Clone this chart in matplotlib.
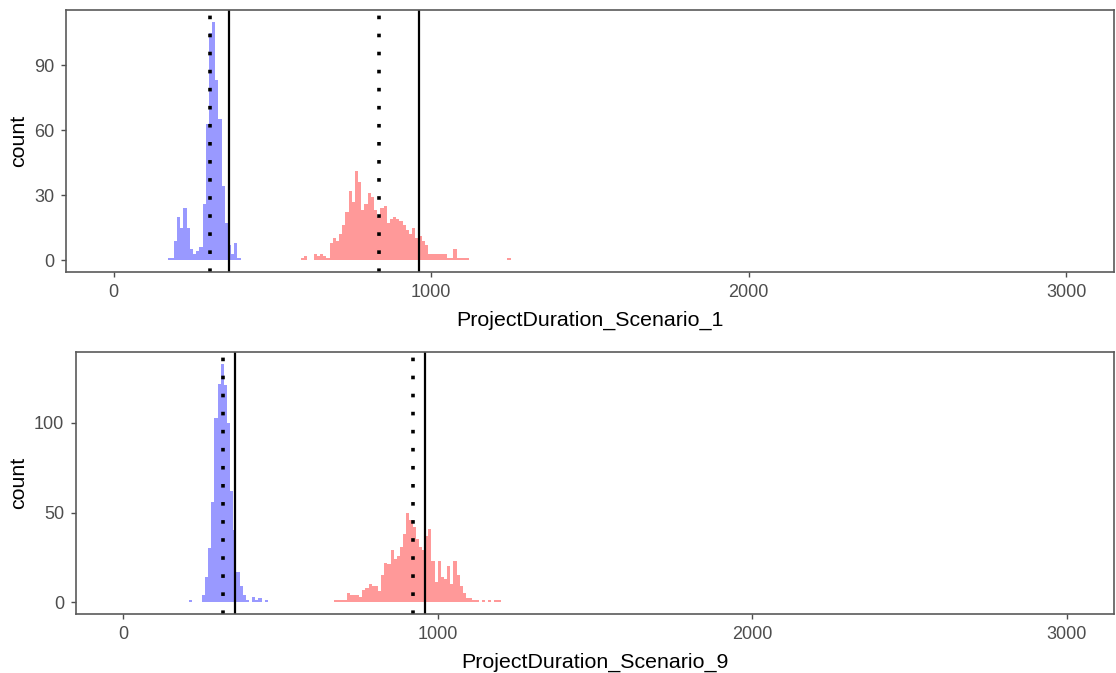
import numpy as np
import matplotlib
matplotlib.use("Agg")
import matplotlib.pyplot as plt

# histogram counts, binwidth 10
binwidth = 10

s1_fast_start = 170
s1_fast_counts = [1, 1, 9, 20, 15, 24, 15, 5, 3, 4, 6, 26, 63, 105, 110, 83,
                  65, 34, 17, 7, 3, 8, 1]
s1_slow_start = 590
s1_slow_counts = [1, 2, 0, 0, 3, 2, 3, 2, 1, 8, 10, 9, 12, 16, 22, 32, 27, 41,
                  36, 23, 26, 31, 29, 23, 20, 24, 25, 17, 19, 20, 19, 18, 16,
                  14, 12, 15, 10, 11, 9, 7, 3, 3, 3, 3, 3, 3, 1, 1, 5, 1, 1,
                  1, 1, 0, 0, 0, 0, 0, 0, 0, 0, 0, 0, 0, 0, 1]

s9_fast_start = 210
s9_fast_counts = [1, 0, 0, 0, 4, 14, 30, 56, 103, 122, 133, 121, 100, 62, 40,
                  17, 9, 4, 1, 0, 3, 1, 2, 0, 1]
s9_slow_start = 670
s9_slow_counts = [1, 1, 1, 1, 5, 4, 4, 4, 3, 7, 8, 10, 9, 9, 6, 15, 22, 21,
                  29, 24, 26, 31, 38, 50, 46, 42, 35, 31, 29, 37, 41, 23, 11,
                  23, 14, 13, 20, 10, 23, 15, 9, 5, 2, 2, 1, 1, 0, 1, 0, 1, 0,
                  1, 1]

# vertical reference lines (dotted, solid)
s1_dotted = [305, 836]
s1_solid = [364, 962]
s9_dotted = [318, 921]
s9_solid = [357, 961]

x_ticks = [0, 1000, 2000, 3000]
panels = [
    ("ProjectDuration_Scenario_1", s1_fast_start, s1_fast_counts, s1_slow_start,
     s1_slow_counts, s1_dotted, s1_solid, [0, 30, 60, 90]),
    ("ProjectDuration_Scenario_9", s9_fast_start, s9_fast_counts, s9_slow_start,
     s9_slow_counts, s9_dotted, s9_solid, [0, 50, 100]),
]

plt.rcParams['font.family'] = ['Liberation Sans', 'DejaVu Sans']

fig = plt.figure(figsize=(11.16, 6.73), dpi=100)
boxes = [[0.0591, 0.5958, 0.9391, 0.3893],
         [0.0681, 0.0877, 0.9301, 0.3893]]
label_x = [-0.036, -0.046]

for i, (title, fs, fc, ss, sc, dots, solids, yt) in enumerate(panels):
    ax = fig.add_axes(boxes[i])
    fc = np.array(fc)
    sc = np.array(sc)
    ax.stairs(fc, fs + binwidth * np.arange(len(fc) + 1), fill=True,
              color="#9999ff", linewidth=0)
    ax.stairs(sc, ss + binwidth * np.arange(len(sc) + 1), fill=True,
              color="#ff9999", linewidth=0)
    for d in dots:
        ax.axvline(d, color="black", linewidth=2.6, linestyle=(0, (1, 4)),
                   dash_capstyle="butt")
    for s in solids:
        ax.axvline(s, color="black", linewidth=1.6)
    ymax = max(fc.max(), sc.max())
    ax.set_xlim(-150, 3150)
    ax.set_ylim(-0.05 * ymax, 1.05 * ymax)
    ax.set_xticks(x_ticks)
    ax.set_yticks(yt)
    for sp in ax.spines.values():
        sp.set_color("#5a5a5a")
        sp.set_linewidth(1.2)
    ax.tick_params(colors="#4d4d4d", labelsize=13, length=3.5, width=1.0,
                   pad=5)
    ax.set_xlabel(title, fontsize=15.4, labelpad=7)
    ax.set_ylabel("count", fontsize=15.4)
    ax.yaxis.set_label_coords(label_x[i], 0.5)

fig.savefig("out.png", dpi=100)
